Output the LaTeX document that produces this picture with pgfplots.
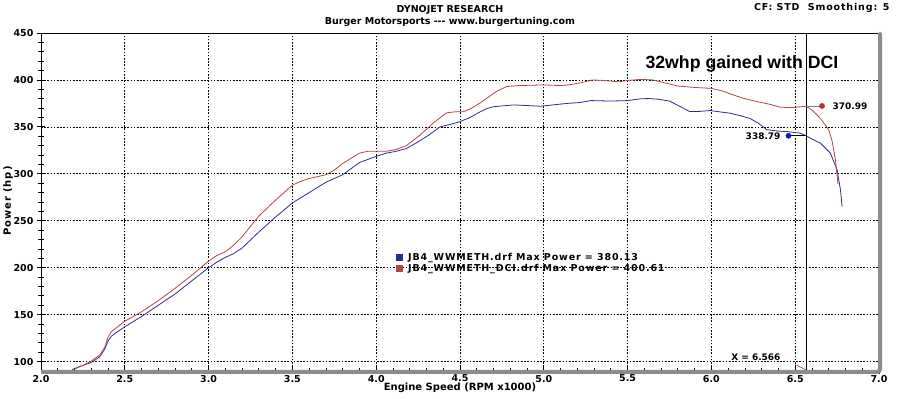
\documentclass[border=0pt]{standalone}
\usepackage{pgfplots}
\pgfplotsset{compat=1.18}
\usepackage{fontspec}
\setmainfont{DejaVu Sans}
\newfontfamily\widefont[LetterSpace=9]{DejaVu Sans}
\newfontfamily\arialfont{Liberation Sans}
\definecolor{redc}{RGB}{178,68,68}
\definecolor{bluec}{RGB}{45,45,140}
\definecolor{reddot}{RGB}{205,35,35}
\definecolor{bluedot}{RGB}{20,30,170}
\definecolor{shadow}{RGB}{140,140,140}

\pgfplotstableread{
x y
2.20 92
2.25 96
2.30 100.5
2.35 107
2.38 115
2.40 126
2.42 132
2.45 136
2.50 143
2.60 153
2.70 165
2.80 178
2.90 192
3.00 207
3.05 213
3.10 217
3.15 224
3.20 233
3.30 255
3.40 272
3.50 288
3.55 292
3.60 295
3.70 299
3.75 304
3.80 311
3.90 322
3.95 324
4.00 324
4.06 324
4.12 326
4.18 330
4.26 341
4.34 354
4.42 365
4.47 366
4.52 366
4.57 370
4.62 375.5
4.68 383
4.72 388
4.78 393
4.85 394
5.00 394.7
5.10 394
5.16 395
5.22 397
5.29 400
5.35 399.5
5.45 398
5.50 399.5
5.58 400.6
5.65 400
5.73 396.5
5.80 393.5
5.90 392
6.00 391
6.07 388
6.13 384
6.20 380
6.27 377
6.35 374
6.41 371
6.47 370.5
6.51 371
6.566 372
6.60 368
6.65 359
6.70 347
6.72 335
6.74 315
6.755 289
}\dcidata

\pgfplotstableread{
x y
2.185 91.5
2.25 96
2.30 99
2.35 105
2.38 113
2.40 122
2.42 127
2.45 131
2.50 137
2.60 148
2.70 160
2.80 172
2.90 186
3.00 200
3.05 206
3.10 211
3.15 215
3.20 221
3.30 238
3.40 254
3.50 269
3.60 280
3.70 291
3.80 299
3.90 312
4.00 318.6
4.06 322
4.12 324
4.18 327
4.25 334
4.32 342
4.38 350
4.45 353
4.50 355.6
4.56 360
4.62 366
4.66 369.5
4.70 371.5
4.82 373.4
4.98 372
5.06 373.5
5.14 375
5.22 376
5.28 378
5.40 377.5
5.50 378
5.58 380
5.63 380.13
5.68 379.5
5.75 377.5
5.80 373
5.87 366.3
5.93 366.5
5.99 367.4
6.05 366
6.11 364.6
6.17 362
6.23 359
6.28 354
6.33 347
6.40 345.5
6.45 345
6.53 343.3
6.566 340.5
6.60 337
6.65 332.7
6.71 322
6.75 304
6.77 283
6.78 265
}\basedata

\begin{document}
\begin{tikzpicture}[x=1pt,y=1pt]
\useasboundingbox (0,0) rectangle (900,399);
\begin{axis}[
  at={(41pt,29pt)}, anchor=south west,
  scale only axis, width=838pt, height=337pt,
  xmin=2, xmax=7, ymin=91, ymax=450,
  xtick={2,2.5,3,3.5,4,4.5,5,5.5,6,6.5,7},
  ytick={100,150,200,250,300,350,400,450},
  minor x tick num=4, minor y tick num=4,
  xtick pos=left, ytick pos=left,
  tick align=center,
  major tick length=8pt, minor tick length=5pt,
  every tick/.style={black, line width=0.8pt},
  grid=major,
  major grid style={black, line width=0.7pt, dash pattern=on 1.6pt off 1.6pt},
  axis line style={draw=none},
  /pgf/number format/assume math mode=true,
  xticklabel style={font=\bfseries\fontsize{9.5}{9.5}\selectfont, yshift=2.5pt, /pgf/number format/.cd, fixed, fixed zerofill, precision=1},
  yticklabel style={font=\bfseries\fontsize{9.5}{9.5}\selectfont},
  legend style={at={(axis cs:4.094,217.5)}, anchor=north west, draw=none, fill=none,
    font=\widefont\bfseries\fontsize{9.5}{10}\selectfont, inner sep=0pt, row sep=-2pt,
    /tikz/every even column/.append style={column sep=2pt}},
  legend cell align=left,
  legend image code/.code={\draw[#1, line width=7pt] (0pt,0pt) -- (7pt,0pt);},
]
\addplot[bluec, line width=0.8pt] table {\basedata};
\addlegendentry{JB4\_WWMETH.drf Max Power = 380.13}
\addplot[redc, line width=0.8pt] table {\dcidata};
\addlegendentry{JB4\_WWMETH\_DCI.drf Max Power = 400.61}
% cursor line
\addplot[black, line width=0.8pt, forget plot] coordinates {(6.566,91) (6.566,450)};
% leaders
\addplot[black, line width=0.7pt, forget plot] coordinates {(6.46,340.5) (6.566,340.5)};
\addplot[gray, line width=0.7pt, forget plot] coordinates {(6.566,372.3) (6.66,372.3)};
\addplot[redc, line width=0.6pt, forget plot] coordinates {(6.50,97) (6.566,91)};
% dots
\addplot[only marks, mark=*, mark size=2.6pt, bluedot, forget plot] coordinates {(6.46,340.5)};
\addplot[only marks, mark=*, mark size=2.6pt, reddot, forget plot] coordinates {(6.66,372.3)};
\end{axis}
% frame
\draw[shadow, line width=4pt, rounded corners=3pt] (880,364) -- (880,27) -- (41,27);
\draw[black, line width=0.8pt] (41,29) -- (41,366) -- (876,366);
\draw[shadow, line width=4pt, line cap=round] (880,363) -- (880,365);
% texts
\node[font=\bfseries\fontsize{9.5}{9.5}\selectfont] at (450,389) {DYNOJET RESEARCH};
\node[font=\bfseries\fontsize{9.5}{9.5}\selectfont] at (450,377) {Burger Motorsports -{}-{}- www.burgertuning.com};
\node[font=\widefont\bfseries\fontsize{9.5}{9.5}\selectfont, anchor=east] at (893,391) {CF: STD\ \ Smoothing: 5};
\node[font=\bfseries\fontsize{10}{10}\selectfont] at (460,11) {Engine Speed (RPM x1000)};
\node[font=\widefont\bfseries\fontsize{10}{10}\selectfont, rotate=90] at (8,198) {Power (hp)};
\node[font=\arialfont\bfseries\fontsize{17.7}{18}\selectfont, anchor=base west] at (642,330.5) {32whp gained with DCI};
\node[font=\bfseries\fontsize{9}{9}\selectfont, anchor=west] at (829,293) {370.99};
\node[font=\bfseries\fontsize{9}{9}\selectfont, anchor=east] at (784,263) {338.79};
\node[font=\bfseries\fontsize{9}{9}\selectfont, anchor=east] at (784,42) {X = 6.566};
\end{tikzpicture}
\end{document}
